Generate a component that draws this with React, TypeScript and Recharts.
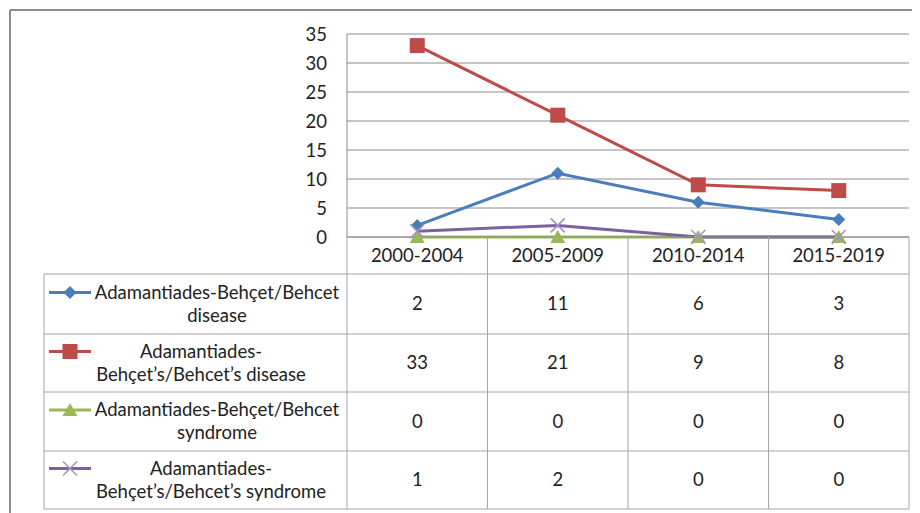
import React from 'react';
import { LineChart, Line, XAxis, YAxis, CartesianGrid } from 'recharts';

const periods = ['2000-2004', '2005-2009', '2010-2014', '2015-2019'];
const diseaseNoApostrophe = [2, 11, 6, 3];
const diseaseApostrophe = [33, 21, 9, 8];
const syndromeNoApostrophe = [0, 0, 0, 0];
const syndromeApostrophe = [1, 2, 0, 0];
const yTicks = [0, 5, 10, 15, 20, 25, 30, 35];

const seriesKeys = ['s1', 's2', 's3', 's4'];
const seriesLabels = [
    ['Adamantiades-Behçet/Behcet', 'disease'],
    ['Adamantiades-', 'Behçet’s/Behcet’s disease'],
    ['Adamantiades-Behçet/Behcet', 'syndrome'],
    ['Adamantiades-', 'Behçet’s/Behcet’s syndrome'],
];
const seriesValues = [diseaseNoApostrophe, diseaseApostrophe, syndromeNoApostrophe, syndromeApostrophe];
const seriesColors = ['#4a7ebb', '#be4b48', '#98b954', '#7d60a0'];
const markerColors = ['#4a7ebb', '#be4b48', '#98b954', '#a58fc6'];
const labelCenters = [209, 193, 209, 203];

const data = periods.map((p, i) => {
    const row: Record<string, string | number> = { period: p };
    seriesKeys.forEach((k, j) => (row[k] = seriesValues[j][i]));
    return row;
});

// layout (container coords, page minus 8px body margin)
const W = 912;
const H = 505;
const plotLeft = 339;
const plotRight = 901;
const plotTop = 26;
const plotBottom = 229;
const headerBottom = 266;
const rowLines = [266, 326, 384, 443, 501];
const tableLeft = 36;
const band = (plotRight - plotLeft) / periods.length;
const FONT = 'Lato, "Open Sans", sans-serif';
const FS = 18.5;
const gridColor = '#8c8c8c';
const tableColor = '#a6a6a6';

const Marker = ({ kind, cx, cy }: { kind: number; cx: number; cy: number }) => {
    const c = markerColors[kind];
    if (kind === 0) {
        const r = 6.5;
        return <path d={`M${cx},${cy - r}L${cx + r},${cy}L${cx},${cy + r}L${cx - r},${cy}Z`} fill={c} />;
    }
    if (kind === 1) {
        const s = 7.5;
        return <rect x={cx - s} y={cy - s} width={s * 2} height={s * 2} fill={c} />;
    }
    if (kind === 2) {
        return <path d={`M${cx},${cy - 7}L${cx + 7.5},${cy + 6}L${cx - 7.5},${cy + 6}Z`} fill={c} />;
    }
    const r = 7;
    return (
        <g stroke={c} strokeWidth={1.6}>
            <line x1={cx - r} y1={cy - r} x2={cx + r} y2={cy + r} />
            <line x1={cx - r} y1={cy + r} x2={cx + r} y2={cy - r} />
        </g>
    );
};

const makeDot = (kind: number) => (props: any) => {
    const { cx, cy, index } = props;
    if (cx == null || cy == null) return <g key={index} />;
    return <Marker key={index} kind={kind} cx={cx} cy={cy} />;
};

const App: React.FC = () => {
    const colX = periods.map((_, i) => plotLeft + band * i + band / 2);

    return (
        <div style={{ position: 'relative', width: W, height: H, fontFamily: FONT, background: '#fff' }}>
            <LineChart
                width={W}
                height={headerBottom}
                data={data}
                margin={{ top: plotTop, right: W - plotRight, left: plotLeft - 60, bottom: 0 }}
            >
                <CartesianGrid vertical={false} stroke={gridColor} />
                <XAxis
                    dataKey="period"
                    height={headerBottom - plotBottom}
                    padding={{ left: band / 2, right: band / 2 }}
                    stroke={gridColor}
                    tickLine={false}
                    tickSize={0}
                    tickMargin={12}
                    tick={{ fontSize: FS, fill: '#222', fontFamily: FONT }}
                />
                <YAxis
                    width={60}
                    domain={[0, 35]}
                    ticks={yTicks}
                    interval={0}
                    stroke={gridColor}
                    tickLine={false}
                    tickSize={0}
                    tickMargin={20}
                    tick={{ fontSize: FS, fill: '#222', fontFamily: FONT }}
                />
                {seriesKeys.map((k, j) => (
                    <Line
                        key={k}
                        dataKey={k}
                        stroke={seriesColors[j]}
                        strokeWidth={3}
                        dot={makeDot(j)}
                        activeDot={false}
                        isAnimationActive={false}
                    />
                ))}
            </LineChart>

            <svg
                width={W}
                height={H}
                style={{ position: 'absolute', left: 0, top: 0, pointerEvents: 'none' }}
                fontFamily={FONT}
            >
                {/* outer chart border */}
                <line x1={2} y1={2} x2={W} y2={2} stroke="#8c8c8c" strokeWidth={2} />
                <line x1={2} y1={2} x2={2} y2={H} stroke="#8c8c8c" strokeWidth={2} />

                {/* data table grid */}
                {rowLines.map((y, i) => (
                    <line key={`h${i}`} x1={tableLeft} y1={y} x2={plotRight} y2={y} stroke={tableColor} />
                ))}
                <line x1={tableLeft} y1={rowLines[0]} x2={tableLeft} y2={rowLines[4]} stroke={tableColor} />
                {periods.concat(['end']).map((_, i) => (
                    <line
                        key={`v${i}`}
                        x1={plotLeft + band * i}
                        y1={plotBottom}
                        x2={plotLeft + band * i}
                        y2={rowLines[4]}
                        stroke={tableColor}
                    />
                ))}

                {seriesLabels.map((lines, j) => {
                    const top = rowLines[j];
                    const mid = (rowLines[j] + rowLines[j + 1]) / 2;
                    const y1 = mid - 11.5;
                    const y2 = mid + 11.5;
                    return (
                        <g key={`r${j}`}>
                            <line x1={41} y1={y1} x2={83} y2={y1} stroke={seriesColors[j]} strokeWidth={3} />
                            <Marker kind={j} cx={62} cy={y1} />
                            <text x={labelCenters[j]} y={y1} dy="0.35em" textAnchor="middle" fontSize={FS} fill="#222">
                                {lines[0]}
                            </text>
                            <text x={labelCenters[j]} y={y2} dy="0.35em" textAnchor="middle" fontSize={FS} fill="#222">
                                {lines[1]}
                            </text>
                            {seriesValues[j].map((v, i) => (
                                <text
                                    key={i}
                                    x={colX[i]}
                                    y={mid}
                                    dy="0.35em"
                                    textAnchor="middle"
                                    fontSize={FS}
                                    fill="#222"
                                >
                                    {v}
                                </text>
                            ))}
                            <g data-top={top} />
                        </g>
                    );
                })}
            </svg>
        </div>
    );
};

export default App;
